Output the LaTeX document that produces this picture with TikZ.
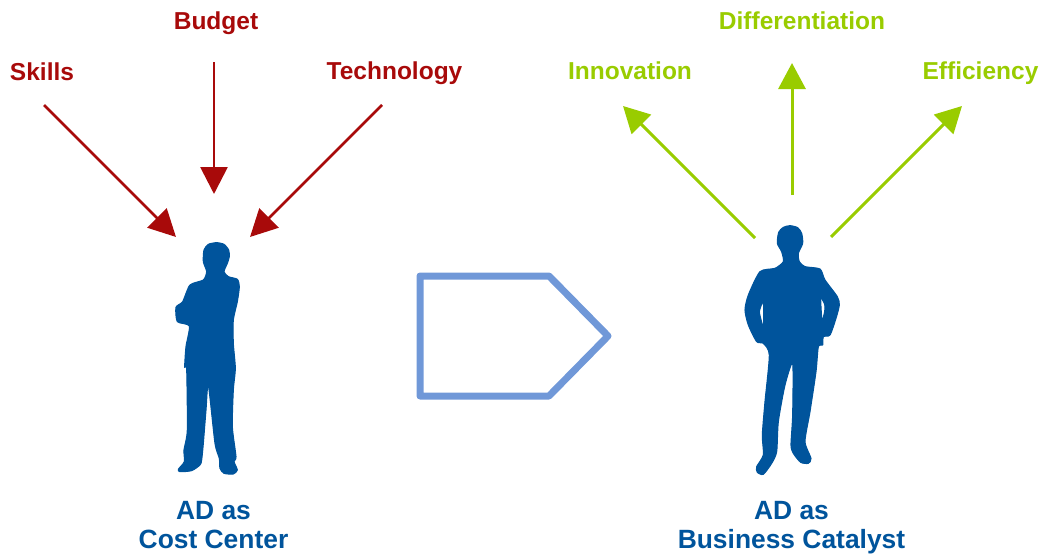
\documentclass[tikz,border=0pt]{standalone}
\usepackage{fontspec}
\setmainfont{Liberation Sans}
\usetikzlibrary{arrows.meta}
\definecolor{redc}{HTML}{A80A0A}
\definecolor{greenc}{HTML}{99CC00}
\definecolor{bluec}{HTML}{00549C}
\definecolor{shapec}{HTML}{7098D8}
\tikzset{
  x=1pt,y=-1pt,
  lab/.style={font=\fontsize{24.5}{30}\selectfont\bfseries,inner sep=0pt,anchor=base},
  redlab/.style={lab,text=redc},
  greenlab/.style={lab,text=greenc},
  bluelab/.style={lab,font=\fontsize{26.4}{30}\selectfont\bfseries,text=bluec},
  redarrow/.style={draw=redc,line width=2.8pt,-{Triangle[length=27pt,width=27pt]}},
  greenarrow/.style={draw=greenc,line width=3pt,-{Triangle[length=26pt,width=27pt]}},
  person/.style={fill=bluec,draw=bluec,line width=1.1pt,line join=round,even odd rule},
}
\begin{document}
\begin{tikzpicture}
\useasboundingbox (0,0) rectangle (1041,554);
% text
\node[redlab] (budget) at (216,29) {Budget};
\node[redlab] (skills) at (42,80) {Skills};
\node[redlab] (tech) at (394.5,79) {Technology};
\node[greenlab] (diff) at (802,29) {Differentiation};
\node[greenlab] (innov) at (630,79) {Innovation};
\node[greenlab] (eff) at (980.5,79) {Efficiency};
\node[bluelab] (adl1) at (213.5,519) {AD as};
\node[bluelab] (adl2) at (213.5,548.5) {Cost Center};
\node[bluelab] (adr1) at (791.5,519) {AD as};
\node[bluelab] (adr2) at (791.5,548.5) {Business Catalyst};
% arrow ends
\coordinate (a1s) at (44,105);  \coordinate (a1e) at (176,237);
\coordinate (a2s) at (214,62);  \coordinate (a2e) at (214,194);
\coordinate (a3s) at (382,105); \coordinate (a3e) at (250,237);
\coordinate (b1s) at (755,238); \coordinate (b1e) at (623,106);
\coordinate (b2s) at (792,195); \coordinate (b2e) at (792,63);
\coordinate (b3s) at (831,237); \coordinate (b3e) at (962,106);
\draw[redarrow] (a1s) -- (a1e);
\draw[redarrow] (a2s) -- (a2e);
\draw[redarrow] (a3s) -- (a3e);
\draw[greenarrow] (b1s) -- (b1e);
\draw[greenarrow] (b2s) -- (b2e);
\draw[greenarrow] (b3s) -- (b3e);
% pentagon
\draw[shapec,line width=7pt,line join=round] (420,276) -- (549,276) -- (608,336) -- (549,396) -- (420,396) -- cycle;
% left person
\begin{scope}[shift={(150,230)},x=0.3333pt,y=-0.3333pt]
\fill[person] plot[smooth cycle,tension=0.4] coordinates {
(200,38)(222,43)(236,60)(238,80)(232,100)(222,125)(235,140)(262,148)(268,170)(262,215)(250,270)(250,340)(256,415)(250,480)(247,590)(258,680)(252,695)(262,720)(250,732)(222,730)(210,715)(208,685)(195,640)(175,465)(168,540)(160,640)(155,690)(150,705)(125,722)(90,725)(85,718)(103,695)(102,660)(112,600)(110,415)(104,412)(108,350)(118,288)(82,275)(78,232)(98,215)(120,165)(160,150)(170,125)(160,95)(162,60)(175,43)};
\end{scope}
% right person
\begin{scope}[shift={(730,215)},x=0.3333pt,y=-0.3333pt]
\fill[person] plot[smooth cycle,tension=0.4] coordinates {
(180,32)(203,38)(215,55)(218,85)(205,115)(208,140)(225,155)(270,162)(285,195)(322,245)(328,270)(318,310)(300,360)(280,365)(278,390)(265,395)(258,470)(240,590)(225,680)(243,730)(235,745)(212,742)(190,715)(183,690)(188,600)(188,445)(165,510)(145,620)(140,710)(125,745)(100,778)(82,772)(80,755)(100,720)(97,660)(105,560)(118,420)(100,385)(80,380)(55,330)(45,285)(55,240)(90,170)(135,160)(160,140)(155,110)(142,85)(146,52)(160,37)}
plot[smooth cycle,tension=0.3] coordinates {(100,258)(88,290)(96,325)(101,335)}
plot[smooth cycle,tension=0.3] coordinates {(272,248)(284,268)(284,290)(276,318)};
\end{scope}
\end{tikzpicture}
\end{document}
